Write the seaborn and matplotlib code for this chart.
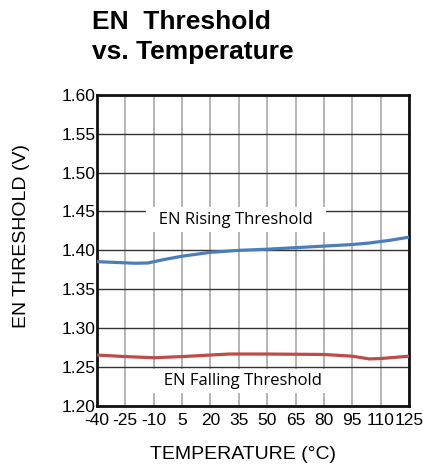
import numpy as np
import pandas as pd
import matplotlib
matplotlib.use("Agg")
import matplotlib.pyplot as plt
import seaborn as sns

# Dữ liệu
temp_rise = [-40, -30, -20, -13, -5, 5, 20, 35, 50, 65, 80, 95, 104, 115, 125]
v_rise = [1.3855, 1.3845, 1.3835, 1.3838, 1.3880, 1.3925, 1.3975, 1.4000, 1.4015, 1.4035, 1.4055, 1.4075, 1.4095, 1.4130, 1.4170]

temp_fall = [-40, -25, -10, 5, 20, 30, 50, 65, 80, 95, 104, 110, 125]
v_fall = [1.2655, 1.2635, 1.2620, 1.2635, 1.2655, 1.2668, 1.2668, 1.2665, 1.2662, 1.2640, 1.2605, 1.2610, 1.2640]

xticks = [-40, -25, -10, 5, 20, 35, 50, 65, 80, 95, 110, 125]
yticks = [1.20, 1.25, 1.30, 1.35, 1.40, 1.45, 1.50, 1.55, 1.60]

df = pd.concat([
    pd.DataFrame({"temp": temp_rise, "v": v_rise, "curve": "rise"}),
    pd.DataFrame({"temp": temp_fall, "v": v_fall, "curve": "fall"}),
])

sns.set_style("white", {"text.color": "black", "axes.labelcolor": "black",
                        "xtick.color": "black", "ytick.color": "black"})
plt.rcParams['font.family'] = ['Liberation Sans', 'DejaVu Sans']

fig = plt.figure(figsize=(4.23, 4.68), dpi=100)
ax = fig.add_axes([0.229, 0.1325, 0.738, 0.665])

sns.lineplot(data=df, x="temp", y="v", hue="curve", palette={"rise": "#4a7ebb", "fall": "#be4b48"},
             linewidth=2.3, legend=False, ax=ax, zorder=3)

ax.set_xlim(-40, 125)
ax.set_ylim(1.20, 1.60)
ax.set_xticks(xticks)
ax.set_yticks(yticks)
ax.set_xticklabels([str(t) for t in xticks], fontsize=12.5)
ax.set_yticklabels([f"{t:.2f}" for t in yticks], fontsize=12.5)
ax.tick_params(axis="y", length=0, pad=1)
ax.tick_params(axis="x", length=0, pad=5)
ax.xaxis.grid(True, color="#a0a0a0", linewidth=1.1)
ax.yaxis.grid(True, color="#333333", linewidth=1.0)
ax.set_axisbelow(True)
for s in ax.spines.values():
    s.set_color("#111111")
    s.set_linewidth(2)

ax.set_xlabel("TEMPERATURE (°C)", fontsize=14)
ax.set_ylabel("EN THRESHOLD (V)", fontsize=14)
ax.xaxis.set_label_coords(0.468, -0.128)
ax.yaxis.set_label_coords(-0.214, 0.547)

box = dict(facecolor="white", edgecolor="none", pad=3)
ax.text(33.5, 1.4395, "  EN Rising Threshold  ", family=["Open Sans", "DejaVu Sans"], fontsize=12,
        ha="center", va="center", bbox=box, zorder=2, color="black")
ax.text(37, 1.2325, "  EN Falling Threshold  ", family=["Open Sans", "DejaVu Sans"], fontsize=12,
        ha="center", va="center", bbox=box, zorder=2, color="black")

fig.text(0.217, 0.978, "EN  Threshold\nvs. Temperature", fontsize=19, fontweight="bold",
         ha="left", va="top", linespacing=1.3, color="black")

fig.savefig("out.png", dpi=100)
